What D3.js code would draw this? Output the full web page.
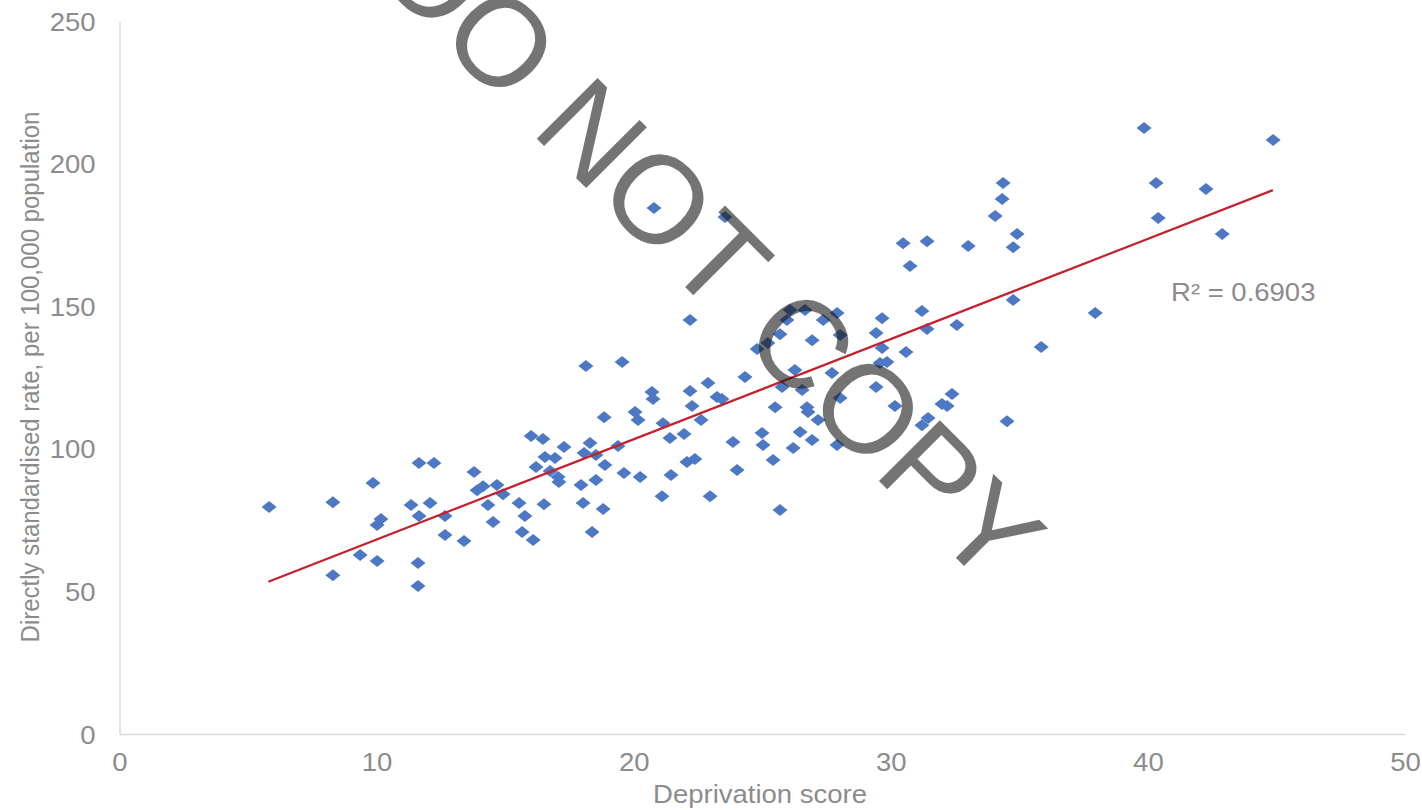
<!DOCTYPE html>
<html>
<head>
<meta charset="utf-8">
<script src="https://cdn.jsdelivr.net/npm/d3@7"></script>
<style>
  body { margin: 0; background: #fff; }
  text { font-family: "Liberation Sans", Arial, sans-serif; }
</style>
</head>
<body>
<div class="chart"></div>
<script>
// deprivation score (x) vs directly standardised rate (y)
const depX = [5.82,8.30,8.30,9.86,9.36,10.02,10.02,10.17,11.65,12.23,11.34,12.08,11.65,12.66,12.66,13.40,11.61,11.61,13.79,13.91,14.14,14.33,14.53,14.68,
  14.92,15.54,15.77,15.66,16.09,16.01,16.47,17.29,16.55,16.94,16.20,16.75,17.06,17.09,16.51,17.95,18.03,18.81,18.38,18.53,18.88,18.30,18.07,18.53,19.39,18.85,18.14,19.55,20.05,20.17,19.62,20.25,20.71,20.75,21.14,21.41,21.96,21.10,21.45,22.07,22.38,22.19,22.89,22.27,22.62,23.24,23.43,23.86,24.02,24.33,22.97,
  20.79,23.55,22.19,
  26.08,26.66,27.37,27.91,28.03,25.69,25.22,25.96,26.94,24.80,26.27,25.77,26.55,27.71,28.03,25.50,26.74,26.78,27.17,24.99,25.03,26.47,26.94,26.20,25.42,27.91,25.69,
  34.37,34.33,34.06,34.91,34.76,30.48,31.41,33.01,30.75,34.76,35.85,29.66,31.21,29.43,31.41,32.57,29.66,30.59,29.58,29.85,29.43,30.16,32.38,31.99,32.19,31.45,31.21,34.52,
  39.85,44.87,40.32,42.26,40.40,42.89,37.95];
const rateY = [79.6,81.3,55.7,88.0,62.8,60.7,73.3,75.4,95.0,95.0,80.3,81.0,76.4,76.4,69.8,67.7,60.0,51.9,91.9,85.5,86.9,80.3,74.3,87.3,
  84.1,81.0,76.4,70.8,68.0,104.5,103.4,100.6,97.1,96.8,93.6,92.2,90.1,88.4,80.6,87.3,81.0,78.9,70.8,89.1,94.3,102.0,98.5,97.8,101.0,111.1,129.0,130.4,112.9,110.1,91.5,90.1,119.9,117.5,109.0,103.8,105.2,83.4,90.8,95.4,96.4,120.3,123.1,115.0,110.1,118.2,117.5,102.4,92.6,125.2,83.4,
  184.4,181.3,145.2,
  148.7,148.7,145.2,147.6,139.9,140.2,137.1,145.2,138.1,135.0,127.6,121.7,120.6,126.6,117.8,114.6,114.6,112.9,110.1,105.5,101.3,105.9,103.1,100.3,96.1,101.3,78.5,
  193.2,187.6,181.6,175.3,170.7,172.1,172.8,171.1,164.1,152.2,135.7,145.8,148.3,140.6,142.0,143.4,135.3,133.9,130.1,130.4,121.7,115.0,119.2,115.7,115.0,110.8,108.3,109.7,
  212.5,208.3,193.2,191.1,180.9,175.3,147.6];

// linear trendline endpoints
const trendX = [5.79, 44.86];
const trendY = [53.4, 190.7];
const rSquared = "R² = 0.6903";

const xTicks = [0, 10, 20, 30, 40, 50];
const yTicks = [0, 50, 100, 150, 200, 250];

const width = 1422, height = 810;
const stretch = 1.1; // picture text is a bit wide

const x = d3.scaleLinear().domain([0, 50]).range([119.5, 1405]);
const y = d3.scaleLinear().domain([0, 250]).range([734, 21]);

const svg = d3.select('.chart').append('svg')
  .attr('width', width).attr('height', height)
  .attr('viewBox', [0, 0, width, height]);

const widen = sel => sel.each(function() {
  const t = d3.select(this);
  const tx = +t.attr('x') || 0, ty = +t.attr('y') || 0;
  t.attr('x', 0).attr('y', 0).attr('transform', `translate(${tx},${ty}) scale(${stretch},1)`);
});

const styleAxis = g => {
  g.select('.domain').attr('stroke', '#d9d9d9').attr('stroke-width', 1.5);
  g.selectAll('.tick line').remove();
  g.selectAll('text').attr('fill', '#8c8c8c').attr('font-size', 25)
    .style('font-family', '"Liberation Sans", Arial, sans-serif').call(widen);
};

svg.append('g')
  .attr('transform', `translate(0,${y(0)})`)
  .call(d3.axisBottom(x).tickValues(xTicks).tickSize(0).tickSizeOuter(0).tickPadding(19))
  .call(styleAxis);

svg.append('g')
  .attr('transform', `translate(${x(0)},0)`)
  .call(d3.axisLeft(y).tickValues(yTicks).tickSize(0).tickSizeOuter(0).tickPadding(24))
  .call(g => g.selectAll('text').attr('dy', '0.36em'))
  .call(styleAxis);

// axis titles
svg.append('text')
  .attr('text-anchor', 'middle')
  .attr('transform', `translate(760,803) scale(${stretch},1)`)
  .attr('font-size', 25).attr('fill', '#8c8c8c')
  .text('Deprivation score');

svg.append('text')
  .attr('text-anchor', 'middle')
  .attr('transform', `translate(39,377) scale(${stretch},1) rotate(-90)`)
  .attr('font-size', 24).attr('fill', '#8c8c8c')
  .text('Directly standardised rate, per 100,000 population');

// points
const pts = depX.map((d, i) => ({ x: d, y: rateY[i] }));
const dw = 7.5, dh = 6;
svg.append('g').selectAll('path')
  .data(pts)
  .join('path')
  .attr('d', d => {
    const cx = x(d.x), cy = y(d.y);
    return `M${cx},${cy - dh}L${cx + dw},${cy}L${cx},${cy + dh}L${cx - dw},${cy}Z`;
  })
  .attr('fill', '#4d78c3');

// trendline
svg.append('line')
  .attr('x1', x(trendX[0])).attr('y1', y(trendY[0]))
  .attr('x2', x(trendX[1])).attr('y2', y(trendY[1]))
  .attr('stroke', '#c5202c').attr('stroke-width', 2.2);

svg.append('text')
  .attr('transform', `translate(${x(40.9)},${y(151.8)}) scale(${stretch},1)`)
  .attr('font-size', 25).attr('fill', '#8c8c8c')
  .text(rSquared);

// watermark
svg.append('text')
  .attr('text-anchor', 'middle')
  .attr('transform', 'translate(681,283) rotate(45)')
  .attr('font-size', 125)
  .attr('fill', 'rgb(23,23,23)').attr('fill-opacity', 0.6)
  .text('DO NOT COPY');
</script>
</body>
</html>
